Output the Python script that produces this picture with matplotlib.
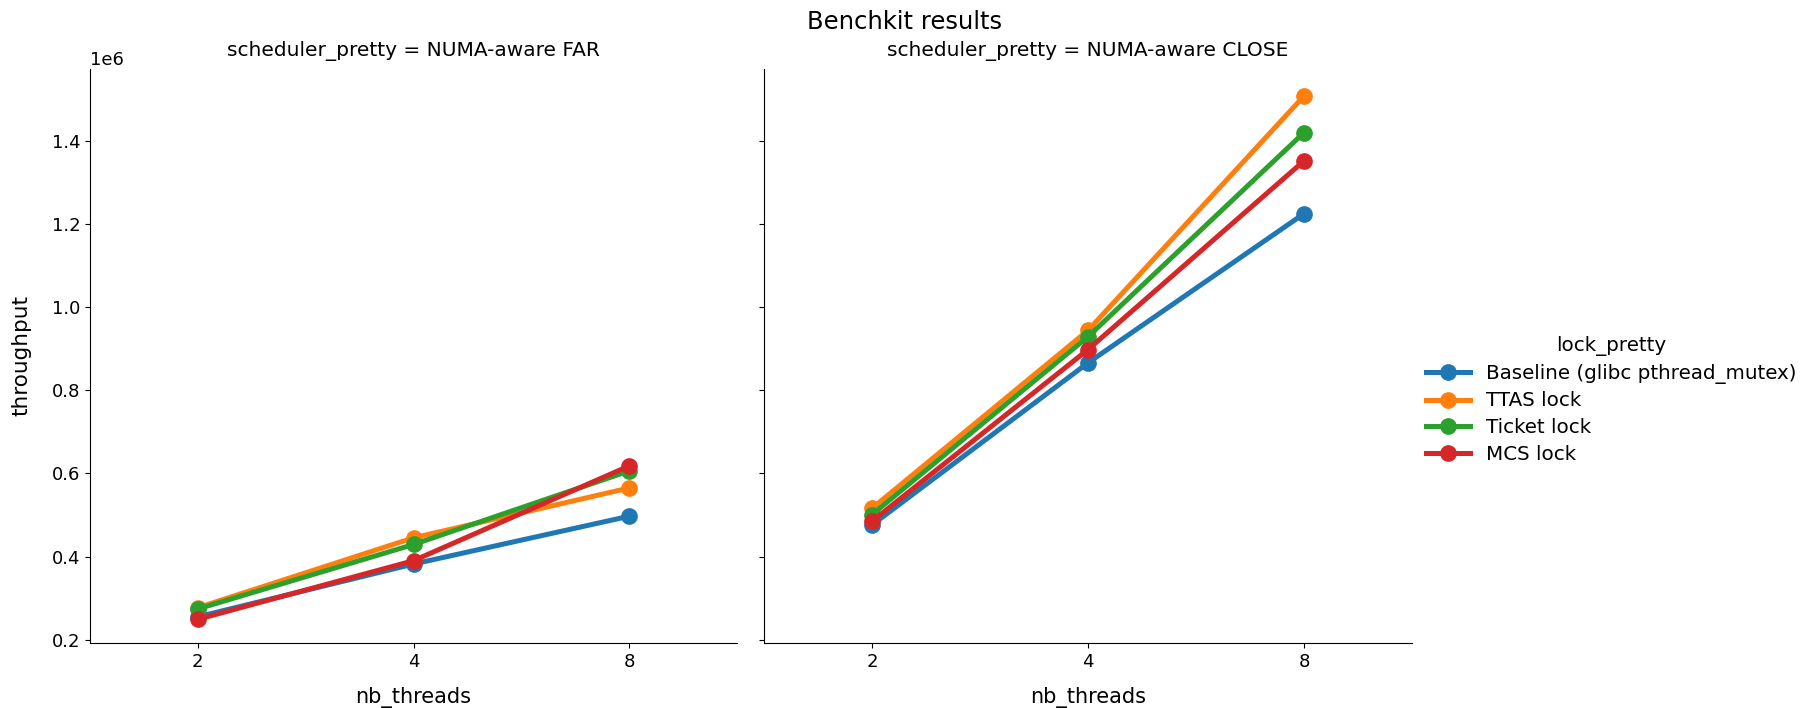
import matplotlib
matplotlib.use("Agg")
import matplotlib.pyplot as plt

plt.rcParams["font.family"] = ["DejaVu Sans"]
plt.rcParams["font.size"] = 13

# Thread counts (categorical x axis) and lock variants
nb_threads = ["2", "4", "8"]
locks = ["Baseline (glibc pthread_mutex)", "TTAS lock", "Ticket lock", "MCS lock"]
colors = ["#1f77b4", "#ff7f0e", "#2ca02c", "#d62728"]

# Throughput per lock, scheduler: NUMA-aware FAR
far_baseline = [0.255e6, 0.382e6, 0.497e6]
far_ttas = [0.277e6, 0.445e6, 0.565e6]
far_ticket = [0.274e6, 0.429e6, 0.606e6]
far_mcs = [0.249e6, 0.390e6, 0.618e6]

# Throughput per lock, scheduler: NUMA-aware CLOSE
close_baseline = [0.476e6, 0.866e6, 1.225e6]
close_ttas = [0.516e6, 0.944e6, 1.508e6]
close_ticket = [0.501e6, 0.929e6, 1.420e6]
close_mcs = [0.485e6, 0.898e6, 1.352e6]

panels = [
    ("NUMA-aware FAR", [far_baseline, far_ttas, far_ticket, far_mcs]),
    ("NUMA-aware CLOSE", [close_baseline, close_ttas, close_ticket, close_mcs]),
]

W, H = 1810, 708
fig = plt.figure(figsize=(W / 100, H / 100), dpi=100)

ax_boxes = [(90, 737), (764, 1412)]
top_px, bottom_px = 69, 643
ax_h = bottom_px - top_px
axes = []
for i, (x0, x1) in enumerate(ax_boxes):
    rect = [x0 / W, (H - bottom_px) / H, (x1 - x0) / W, ax_h / H]
    ax = fig.add_axes(rect, sharey=axes[0] if axes else None)
    axes.append(ax)

handles = []
for ax, (sched, series) in zip(axes, panels):
    for name, vals, c in zip(locks, series, colors):
        (ln,) = ax.plot(nb_threads, vals, color=c, linewidth=3.6, marker="o",
                        markersize=11, label=name)
        if ax is axes[0]:
            handles.append(ln)
    ax.set_xlim(-0.5, 2.5)
    ax.set_title(f"scheduler_pretty = {sched}", fontsize=14.5,
                 y=1 + 18 / ax_h, va="center", pad=0)
    ax.set_xlabel("nb_threads", fontsize=15, va="center")
    ax.xaxis.set_label_coords(0.5, -55 / ax_h)
    ax.tick_params(labelsize=13)
    ax.spines["top"].set_visible(False)
    ax.spines["right"].set_visible(False)

axes[0].set_ylim(0.192e6, 1.573e6)
axes[0].set_ylabel("throughput", fontsize=15.5, va="center")
axes[0].yaxis.set_label_coords(-(90 - 21) / 647, 0.5)
axes[1].tick_params(axis="y", labelleft=False)

fig.suptitle("Benchkit results", fontsize=17.5, y=1 - 22 / H, va="center")

leg = fig.legend(handles, locks, title="lock_pretty", loc="center left",
                 bbox_to_anchor=(1418 / W, 1 - 400 / H), frameon=False,
                 handlelength=2.2, borderaxespad=0, fontsize=14.3,
                 labelspacing=0.38)
leg.get_title().set_fontsize(14.3)

fig.savefig("out.png", dpi=100)
